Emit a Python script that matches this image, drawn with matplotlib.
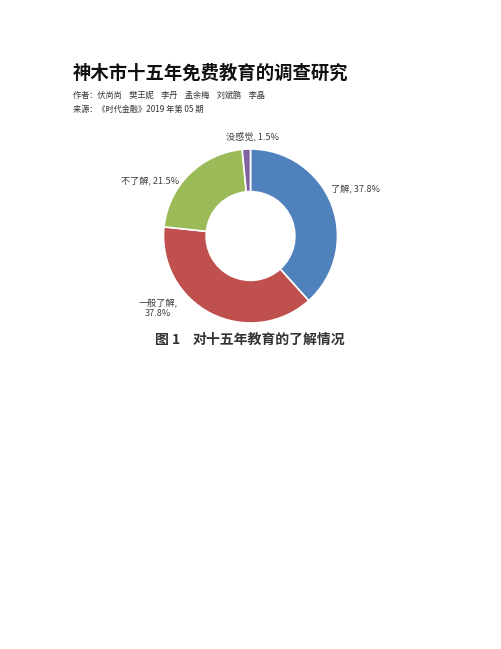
import matplotlib
matplotlib.use('Agg')
import matplotlib.pyplot as plt

plt.rcParams['font.family'] = ['Noto Sans CJK SC', 'DejaVu Sans']

# 数据
categories = ['了解', '一般了解', '不了解', '没感觉']
values = [37.8, 37.8, 21.5, 1.5]
colors = ['#4F81BD', '#C0504D', '#9BBB59', '#8064A2']

title = '神木市十五年免费教育的调查研究'
authors = '作者：伏尚尚    樊王妮    李丹    孟余梅    刘斌鹏    李晶'
source = '来源：《时代金融》2019 年第 05 期'
fig_no = '图 1'
caption = '对十五年教育的了解情况'

W, H = 502, 649
fig = plt.figure(figsize=(W / 100, H / 100), dpi=100)
fig.patch.set_facecolor('white')

# 页面文字
fig.text(73 / W, 1 - 73 / H, title, fontsize=13.2, fontweight='bold',
         va='center', ha='left', color='#111111')
fig.text(73 / W, 1 - 95 / H, authors, fontsize=5.9, va='center', ha='left', color='#333333')
fig.text(73 / W, 1 - 109 / H, source, fontsize=5.9, va='center', ha='left', color='#333333')

# 圆环图
R = 87.0
cx, cy = 250.5, 236.0
side = 2.2 * R
ax = fig.add_axes([(cx - side / 2) / W, (H - cy - side / 2) / H, side / W, side / H])
ax.pie(values, colors=colors, startangle=90, counterclock=False, radius=1,
       wedgeprops=dict(width=0.49, edgecolor='white', linewidth=1.2))
ax.set_xlim(-1.1, 1.1)
ax.set_ylim(-1.1, 1.1)
ax.set_aspect('equal')
ax.axis('off')

lab_kw = dict(fontsize=6.6, color='#404040')
ax.text(0.02, 1.14, '%s, %.1f%%' % (categories[3], values[3]), ha='center', va='center', **lab_kw)
ax.text(0.92, 0.53, '%s, %.1f%%' % (categories[0], values[0]), ha='left', va='center', **lab_kw)
ax.text(-0.82, 0.62, '%s, %.1f%%' % (categories[2], values[2]), ha='right', va='center', **lab_kw)
ax.text(-1.06, -0.83, '%s,\n%.1f%%' % (categories[1], values[1]), ha='center', va='center',
        linespacing=1.1, **lab_kw)

fig.text(155 / W, 1 - 340 / H, fig_no, fontsize=10, fontweight='bold',
         ha='left', va='center', color='#333333')
fig.text(193 / W, 1 - 340 / H, caption, fontsize=10, fontweight='bold',
         ha='left', va='center', color='#333333')

fig.savefig('out.png', dpi=100, facecolor='white')
